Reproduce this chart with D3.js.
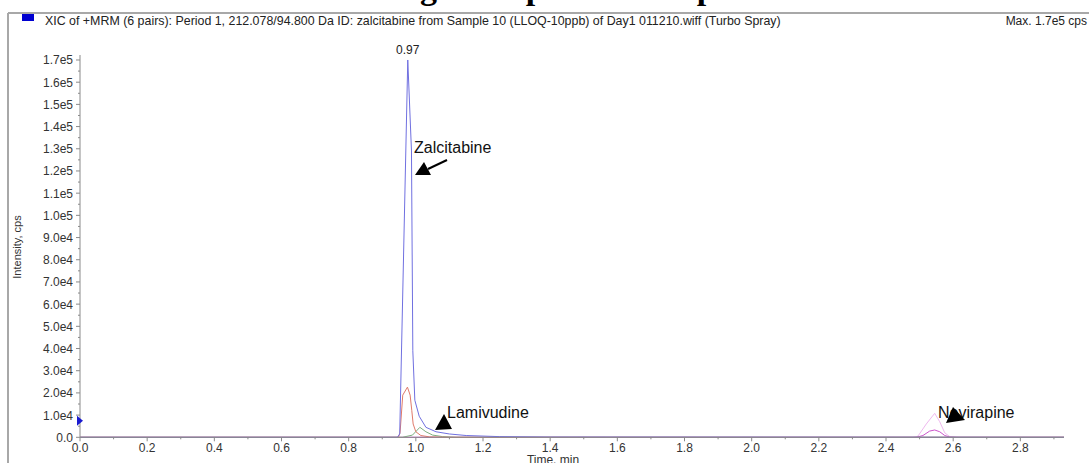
<!DOCTYPE html>
<html lang="en">
<head>
<meta charset="UTF-8">
<title>XIC chromatogram</title>
<script src="https://d3js.org/d3.v7.min.js"></script>
<style>
  body { margin: 0; background: #fff; }
  text { font-family: Arial, "Liberation Sans", sans-serif; }
</style>
</head>
<body>
<svg id="chart" width="1089" height="463"></svg>
<script>
// header / labels
var titleText = "Chromatogram - plasma sample";
var headerText = "XIC of +MRM (6 pairs): Period 1, 212.078/94.800 Da ID: zalcitabine from Sample 10 (LLOQ-10ppb) of Day1 011210.wiff (Turbo Spray)";
var maxText = "Max. 1.7e5 cps";

// tick values
var yMajorTicks = d3.range(0, 170001, 10000);
var yMinorTicks = d3.range(5000, 170001, 10000);
var xMajorTicks = [0, 0.2, 0.4, 0.6, 0.8, 1.0, 1.2, 1.4, 1.6, 1.8, 2.0, 2.2, 2.4, 2.6, 2.8];
var xMinorTicks = [0.1, 0.3, 0.5, 0.7, 0.9, 1.1, 1.3, 1.5, 1.7, 1.9, 2.1, 2.3, 2.5, 2.7, 2.9];

// traces (time in min, intensity in cps)
var blueTime = [0, 0.90, 0.945, 0.952, 0.976, 0.987, 0.991, 0.997, 1.01, 1.03, 1.06, 1.10, 1.15, 1.25, 1.40, 2.93];
var blueVals = [0, 0, 0, 1500, 170000, 129000, 39000, 16700, 9500, 4500, 2500, 1500, 800, 300, 100, 0];

var redTime = [0, 0.948, 0.953, 0.961, 0.975, 0.983, 0.988, 0.992, 1.0, 1.015, 1.04, 1.10, 2.93];
var redVals = [0, 0, 2000, 19000, 22600, 19000, 12000, 6000, 2500, 800, 200, 0, 0];

var greenTime = [0, 0.96, 0.99, 1.012, 1.03, 1.05, 1.08, 1.12, 2.93];
var greenVals = [0, 0, 1000, 4500, 2500, 1000, 300, 0, 0];

var pinkTime = [0, 2.48, 2.495, 2.52, 2.545, 2.56, 2.575, 2.59, 2.62, 2.93];
var pinkVals = [0, 0, 500, 6000, 10800, 7000, 2000, 300, 0, 0];

var magentaTime = [0, 2.49, 2.51, 2.53, 2.545, 2.56, 2.575, 2.59, 2.61, 2.93];
var magentaVals = [0, 0, 800, 2800, 3300, 2500, 800, 100, 0, 0];

var apexLabel = "0.97";
var apexTime = 0.976, apexValue = 170000;

var svg = d3.select("#chart");

// scales
var x = d3.scaleLinear().domain([0, 2.93]).range([80, 1064]);
var y = d3.scaleLinear().domain([0, 172250]).range([437.3, 55]);

// cut-off figure title at the very top
var title = svg.append("text")
  .attr("y", -1)
  .style("font-family", "'Liberation Serif', 'Times New Roman', serif")
  .style("font-weight", "bold")
  .style("font-size", "34px")
  .text(titleText);
var gOffset = title.node().getSubStringLength(0, titleText.indexOf("g"));
title.attr("x", 420 - gOffset);

// frame
svg.append("line").attr("x1", 8).attr("x2", 1089).attr("y1", 13).attr("y2", 13)
  .attr("stroke", "#a8a8a8").attr("stroke-width", 2);
svg.append("line").attr("x1", 8).attr("x2", 8).attr("y1", 13).attr("y2", 463)
  .attr("stroke", "#a8a8a8").attr("stroke-width", 2);

// header
svg.append("rect").attr("x", 22).attr("y", 14).attr("width", 12).attr("height", 7).attr("fill", "#0000d0");
svg.append("text").attr("x", 45).attr("y", 25).attr("font-size", 12.4).attr("fill", "#222").text(headerText);
svg.append("text").attr("x", 1087).attr("y", 25).attr("font-size", 12).attr("fill", "#222")
  .attr("text-anchor", "end").text(maxText);

// traces
var line = d3.line().x(function(d) { return x(d[0]); }).y(function(d) { return y(d[1]); });

function drawTrace(t, v, color) {
  svg.append("path")
    .attr("d", line(d3.zip(t, v)))
    .attr("fill", "none")
    .attr("stroke", color)
    .attr("stroke-width", 1);
}
drawTrace(pinkTime, pinkVals, "#efb8ef");
drawTrace(magentaTime, magentaVals, "#cc55cc");
drawTrace(greenTime, greenVals, "#7fb07f");
drawTrace(redTime, redVals, "#e07a6a");
drawTrace(blueTime, blueVals, "#7070e0");

// axes
var axisColor = "#8a8a8a", labelColor = "#333";

function yFmt(v) {
  if (v === 0) return "0.0";
  return d3.format(".1e")(v).replace("e+", "e");
}

var gy = svg.append("g");
gy.append("line").attr("x1", 80).attr("x2", 80).attr("y1", y.range()[1]).attr("y2", y(0))
  .attr("stroke", axisColor);
gy.selectAll("line.major").data(yMajorTicks).enter().append("line")
  .attr("class", "major")
  .attr("x1", 76).attr("x2", 80)
  .attr("y1", function(d) { return y(d); }).attr("y2", function(d) { return y(d); })
  .attr("stroke", axisColor);
gy.selectAll("line.minor").data(yMinorTicks).enter().append("line")
  .attr("class", "minor")
  .attr("x1", 78).attr("x2", 80)
  .attr("y1", function(d) { return y(d); }).attr("y2", function(d) { return y(d); })
  .attr("stroke", axisColor);
gy.selectAll("text").data(yMajorTicks).enter().append("text")
  .attr("x", 73)
  .attr("y", function(d) { return y(d) + 4.5; })
  .attr("text-anchor", "end")
  .attr("font-size", 12)
  .attr("fill", labelColor)
  .text(yFmt);

var gx = svg.append("g");
gx.append("line").attr("x1", 80).attr("x2", x.range()[1]).attr("y1", y(0)).attr("y2", y(0))
  .attr("stroke", axisColor);
gx.selectAll("line.major").data(xMajorTicks).enter().append("line")
  .attr("class", "major")
  .attr("x1", function(d) { return x(d); }).attr("x2", function(d) { return x(d); })
  .attr("y1", y(0)).attr("y2", y(0) + 4)
  .attr("stroke", axisColor);
gx.selectAll("line.minor").data(xMinorTicks).enter().append("line")
  .attr("class", "minor")
  .attr("x1", function(d) { return x(d); }).attr("x2", function(d) { return x(d); })
  .attr("y1", y(0)).attr("y2", y(0) + 2)
  .attr("stroke", axisColor);
gx.selectAll("text").data(xMajorTicks).enter().append("text")
  .attr("x", function(d) { return x(d); })
  .attr("y", 452)
  .attr("text-anchor", "middle")
  .attr("font-size", 12)
  .attr("fill", labelColor)
  .text(function(d) { return d3.format(".1f")(d); });

// axis titles
svg.append("text").attr("x", 553).attr("y", 464).attr("text-anchor", "middle")
  .attr("font-size", 12).attr("fill", labelColor).text("Time, min");
svg.append("text").attr("transform", "translate(21,247) rotate(-90)").attr("text-anchor", "middle")
  .attr("font-size", 11).attr("fill", labelColor).text("Intensity, cps");

// trigger marker on y axis
var my = y(7500);
svg.append("path").attr("d", "M77," + (my - 5) + "L83," + my + "L77," + (my + 5) + "Z").attr("fill", "#1a1ad0");

// apex label
svg.append("text").attr("x", x(apexTime)).attr("y", y(apexValue) - 6).attr("text-anchor", "middle")
  .attr("font-size", 12).attr("fill", "#222").text(apexLabel);

// annotations
function tri(tip, b1, b2) {
  svg.append("path").attr("d", "M" + tip + "L" + b1 + "L" + b2 + "Z").attr("fill", "#000");
}
svg.append("text").attr("x", 414).attr("y", 153).attr("font-size", 16).attr("fill", "#111").text("Zalcitabine");
svg.append("line").attr("x1", 447).attr("y1", 160).attr("x2", 428).attr("y2", 169)
  .attr("stroke", "#000").attr("stroke-width", 2);
tri([415, 175], [424, 162], [431, 175]);

svg.append("text").attr("x", 447).attr("y", 418).attr("font-size", 16).attr("fill", "#111").text("Lamivudine");
tri([444, 414], [435, 430], [452, 429]);

svg.append("text").attr("x", 938).attr("y", 418).attr("font-size", 16).attr("fill", "#111").text("Nevirapine");
tri([953, 407], [946, 423], [965, 420]);
</script>
</body>
</html>
